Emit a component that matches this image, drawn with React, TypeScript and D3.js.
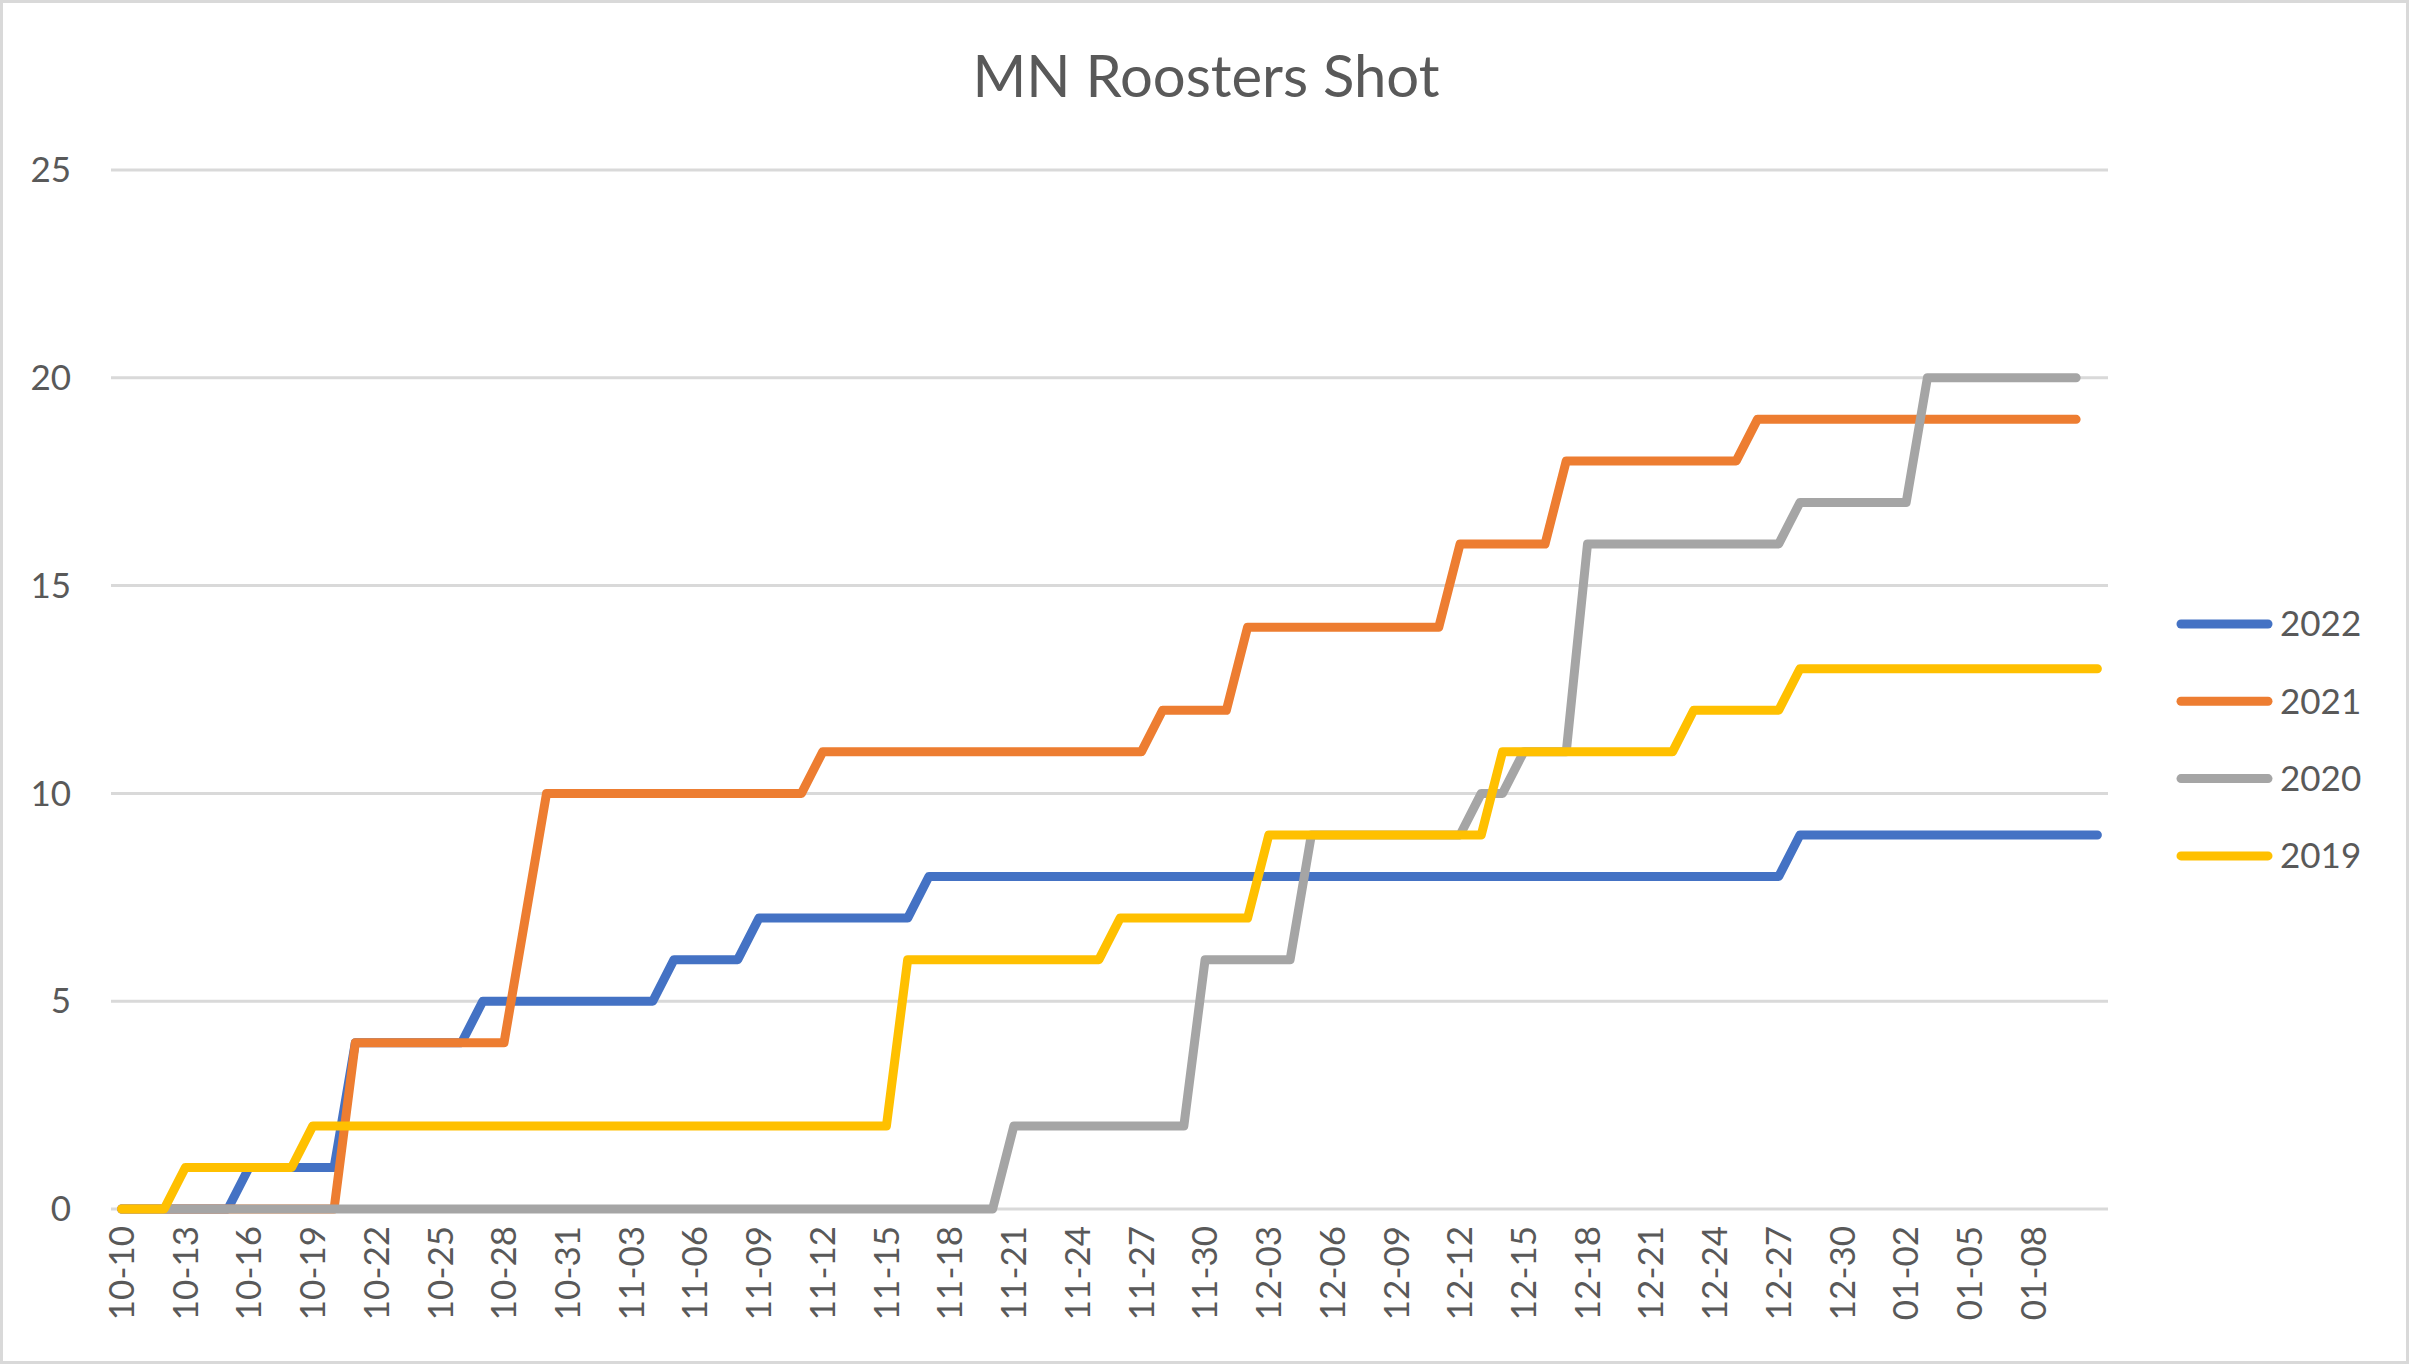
import React from "react";
import * as d3 from "d3";

const categories: string[] = [
  "10-10","10-11","10-12","10-13","10-14","10-15","10-16","10-17","10-18","10-19","10-20","10-21","10-22","10-23","10-24","10-25","10-26","10-27","10-28","10-29","10-30","10-31",
  "11-01","11-02","11-03","11-04","11-05","11-06","11-07","11-08","11-09","11-10","11-11","11-12","11-13","11-14","11-15","11-16","11-17","11-18","11-19","11-20","11-21","11-22","11-23","11-24","11-25","11-26","11-27","11-28","11-29","11-30",
  "12-01","12-02","12-03","12-04","12-05","12-06","12-07","12-08","12-09","12-10","12-11","12-12","12-13","12-14","12-15","12-16","12-17","12-18","12-19","12-20","12-21","12-22","12-23","12-24","12-25","12-26","12-27","12-28","12-29","12-30","12-31",
  "01-01","01-02","01-03","01-04","01-05","01-06","01-07","01-08","01-09","01-10","01-11"
];

// Tick labels shown on the category axis (every third day)
const xTickLabels: string[] = [
  "10-10","10-13","10-16","10-19","10-22","10-25","10-28","10-31",
  "11-03","11-06","11-09","11-12","11-15","11-18","11-21","11-24","11-27","11-30",
  "12-03","12-06","12-09","12-12","12-15","12-18","12-21","12-24","12-27","12-30",
  "01-02","01-05","01-08"
];

const s2022: number[] = [
  0,0,0,0,0,0, 1,1,1,1,1, 4,4,4,4,4,4, 5,5,5,5,5,5,5,5,5, 6,6,6,6, 7,7,7,7,7,7,7,7,
  8,8,8,8,8,8,8,8,8,8,8,8,8,8,8,8,8,8,8,8,8,8,8,8,8,8,8,8,8,8,8,8,8,8,8,8,8,8,8,8,8,
  9,9,9,9,9,9,9,9,9,9,9,9,9,9,9
];
const s2021: number[] = [
  0,0,0,0,0,0,0,0,0,0,0, 4,4,4,4,4,4,4,4, 7, 10,10,10,10,10,10,10,10,10,10,10,10,10,
  11,11,11,11,11,11,11,11,11,11,11,11,11,11,11,11, 12,12,12,12, 14,14,14,14,14,14,14,14,14,14,
  16,16,16,16,16, 18,18,18,18,18,18,18,18,18, 19,19,19,19,19,19,19,19,19,19,19,19,19,19,19,19
];
const s2020: number[] = [
  0,0,0,0,0,0,0,0,0,0,0,0,0,0,0,0,0,0,0,0,0,0,0,0,0,0,0,0,0,0,0,0,0,0,0,0,0,0,0,0,0,0,
  2,2,2,2,2,2,2,2,2, 6,6,6,6,6, 9,9,9,9,9,9,9,9, 10,10, 11,11,11,
  16,16,16,16,16,16,16,16,16,16, 17,17,17,17,17,17, 20,20,20,20,20,20,20,20
];
const s2019: number[] = [
  0,0,0, 1,1,1,1,1,1, 2,2,2,2,2,2,2,2,2,2,2,2,2,2,2,2,2,2,2,2,2,2,2,2,2,2,2,2,
  6,6,6,6,6,6,6,6,6,6, 7,7,7,7,7,7,7, 9,9,9,9,9,9,9,9,9,9,9, 11,11,11,11,11,11,11,11,11,
  12,12,12,12,12, 13,13,13,13,13,13,13,13,13,13,13,13,13,13,13
];

const seriesNames = ["2022", "2021", "2020", "2019"];
const seriesData = [s2022, s2021, s2020, s2019];
const seriesColors = ["#4472C4", "#ED7D31", "#A5A5A5", "#FFC000"];
const yTicks = [0, 5, 10, 15, 20, 25];
const title = "MN Roosters Shot";

const W = 2409, H = 1364;
const plotL = 111, plotR = 2108, plotT = 170, plotB = 1209;
const FONT = "Lato, 'Open Sans', sans-serif";
const TXT = "#595959";

export default function App() {
  const x = d3.scalePoint<string>().domain(categories).range([plotL, plotR]).padding(0.5);
  const y = d3.scaleLinear().domain([0, 25]).range([plotB, plotT]);
  const line = d3.line<number>()
    .x((_, i) => x(categories[i]) as number)
    .y((d) => y(d));

  return (
    <svg width={W} height={H} style={{ position: "fixed", left: 0, top: 0, background: "#fff" }}>
      <rect x={1.5} y={1.5} width={W - 3} height={H - 3} fill="#fff" stroke="#D9D9D9" strokeWidth={3} />
      <text x={1206} y={97} textAnchor="middle" fontFamily={FONT} fontSize={58} fill={TXT}>{title}</text>
      {yTicks.map((t) => (
        <g key={t}>
          <line x1={plotL} x2={plotR} y1={y(t)} y2={y(t)} stroke="#D9D9D9" strokeWidth={3} />
          <text x={71} y={y(t)} dy="0.35em" textAnchor="end" fontFamily={FONT} fontSize={35} fill={TXT}>{t}</text>
        </g>
      ))}
      {xTickLabels.map((c) => (
        <text key={c} transform={`translate(${x(c)},1226) rotate(-90)`} dy="0.35em" textAnchor="end"
          fontFamily={FONT} fontSize={35} fill={TXT}>{c}</text>
      ))}
      {seriesData.map((s, k) => (
        <path key={seriesNames[k]} d={line(s) || ""} fill="none" stroke={seriesColors[k]} strokeWidth={9}
          strokeLinejoin="round" strokeLinecap="round" />
      ))}
      {seriesNames.map((n, k) => {
        const ly = 624 + k * 77.3;
        return (
          <g key={n}>
            <line x1={2181} x2={2268} y1={ly} y2={ly} stroke={seriesColors[k]} strokeWidth={9} strokeLinecap="round" />
            <text x={2280} y={ly} dy="0.35em" fontFamily={FONT} fontSize={35} fill={TXT}>{n}</text>
          </g>
        );
      })}
    </svg>
  );
}
